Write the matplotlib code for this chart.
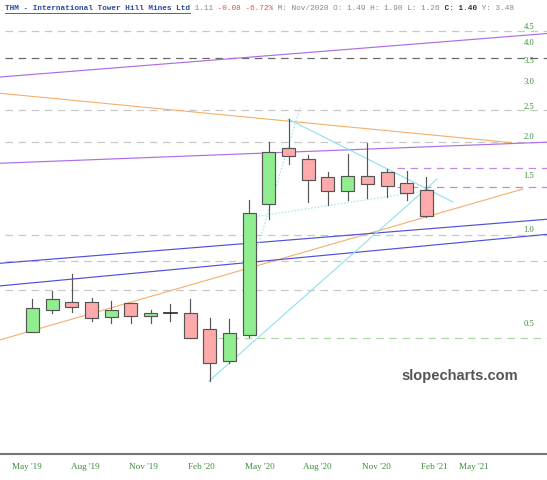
import numpy as np
import matplotlib
matplotlib.use('Agg')
import matplotlib.pyplot as plt
from matplotlib.patches import Rectangle

# ---- monthly candles (THM)
opens = [0.469, 0.549, 0.583, 0.585, 0.524, 0.578, 0.528, 0.539, 0.537, 0.477, 0.377,
         0.457, 1.204, 1.832, 1.681, 1.471, 1.332, 1.49, 1.533, 1.407, 1.339]
highs = [0.596, 0.635, 0.719, 0.603, 0.590, 0.580, 0.550, 0.575, 0.596, 0.520, 0.515,
         1.243, 1.906, 2.266, 1.735, 1.527, 1.744, 1.90, 1.561, 1.545, 1.47]
lows = [0.467, 0.537, 0.543, 0.509, 0.499, 0.499, 0.499, 0.507, 0.446, 0.325, 0.371,
        0.450, 1.080, 1.62, 1.222, 1.198, 1.243, 1.26, 1.268, 1.243, 1.10]
closes = [0.557, 0.596, 0.563, 0.517, 0.549, 0.528, 0.537, 0.539, 0.448, 0.373, 0.463,
          1.127, 1.778, 1.722, 1.442, 1.329, 1.489, 1.40, 1.382, 1.312, 1.107]

# ---- x tick labels (in candle index units)
dateTicks = [-0.26, 2.66, 5.63, 8.57, 11.55, 14.47, 17.44, 20.41, 22.41]
dateLabels = ["May '19", "Aug '19", "Nov '19", "Feb '20", "May '20",
              "Aug '20", "Nov '20", "Feb '21", "May '21"]
priceTicks = [0.5, 1.0, 1.5, 2.0, 2.5, 3.0, 3.5, 4.0, 4.5]

# ---- horizontal levels
grayLevels = [4.36, 2.42, 1.915, 0.959, 0.793, 0.638]
darkLevel = 3.55
greenLevel = 0.448
purpleLevels = [1.58, 1.372]

# ---- trend lines: (x0, p0, x1, p1)
orangeLines = [(-1.645, 2.741, 24.33, 1.901), (-1.645, 0.441, 24.9, 1.349)]
purpleLines = [(-1.645, 3.092, 26.12, 4.268), (-1.645, 1.632, 26.12, 1.908)]
blueLines = [(-1.645, 0.778, 26.12, 1.078), (-1.645, 0.658, 26.12, 0.964)]
cyanLines = [(8.96, 0.325, 20.54, 1.452), (12.97, 2.266, 21.35, 1.225)]
cyanDotted = [(11.30, 1.099, 19.67, 1.322), (11.2, 0.785, 13.58, 2.458)]


def main():
    fig = plt.figure(figsize=(5.47, 4.8), dpi=100)
    ax = fig.add_axes([0, 26/480, 1, 434/480])
    ax.set_yscale('log')
    ax.set_xlim(-1.645, 26.12)
    ax.set_ylim(0.1894, 4.717)

    #
    # ---- levels
    dash = (0, (6, 4.5))
    for lv in grayLevels:
        ax.axhline(lv, color='#c8c8c8', lw=0.9, ls=dash, xmin=0.01, zorder=1)
    ax.axhline(darkLevel, color='#6a6a6a', lw=0.9, ls=dash, xmin=0.01, zorder=1)
    ax.axhline(greenLevel, color='#a8dca0', lw=0.9, ls=dash, xmin=0.375, zorder=1)
    for lv in purpleLevels:
        ax.axhline(lv, color='#c488e0', lw=0.9, ls=dash, xmin=0.725, zorder=1)

    #
    # ---- trend lines
    for x0, p0, x1, p1 in orangeLines:
        ax.plot([x0, x1], [p0, p1], color='#f6ae6a', lw=0.8, zorder=2)
    for x0, p0, x1, p1 in purpleLines:
        ax.plot([x0, x1], [p0, p1], color='#ad6ee2', lw=0.85, zorder=2)
    for x0, p0, x1, p1 in blueLines:
        ax.plot([x0, x1], [p0, p1], color='#5050d8', lw=0.85, zorder=2)
    for x0, p0, x1, p1 in cyanLines:
        ax.plot([x0, x1], [p0, p1], color='#8ee2ec', lw=0.8, zorder=2)
    for x0, p0, x1, p1 in cyanDotted:
        ax.plot([x0, x1], [p0, p1], color='#a2e6ee', lw=0.8, ls=(0, (1.5, 1.5)), zorder=2)

    #
    # ---- candles
    w = 0.66
    for i, (o, h, l, c) in enumerate(zip(opens, highs, lows, closes)):
        ax.plot([i, i], [l, h], color='#555555', lw=0.85, zorder=3)
        if abs(c - o) < 1e-9:
            ax.plot([i - w/2, i + w/2], [o, o], color='#222222', lw=1.2, zorder=4)
            continue
        fc = '#90ee90' if c > o else '#ffaaaa'
        ax.add_patch(Rectangle((i - w/2, min(o, c)), w, abs(c - o), facecolor=fc,
                               edgecolor='#555555', lw=0.85, zorder=4))

    #
    # ---- axes style
    for s in ['top', 'left', 'right']:
        ax.spines[s].set_visible(False)
    ax.spines['bottom'].set_color('#777777')
    ax.spines['bottom'].set_linewidth(1.5)
    ax.set_xticks(dateTicks)
    ax.set_xticklabels(dateLabels, family='Liberation Serif', fontsize=6.6, color='#3c8c3c')
    ax.tick_params(axis='x', length=0, pad=6.5)
    ax.yaxis.tick_right()
    ax.set_yticks(priceTicks)
    ax.set_yticklabels([f'{v:.1f}' for v in priceTicks], family='Liberation Serif',
                       fontsize=6.2, color='#3c8c3c')
    ax.yaxis.set_minor_locator(matplotlib.ticker.NullLocator())
    ax.tick_params(axis='y', which='both', length=0, pad=-17)

    #
    # ---- header (monospace, colored segments)
    segs = [
        ('THM - International Tower Hill Mines Ltd', '#2a4aa0', 'bold'),
        (' 1.11', '#888888', 'normal'),
        (' -0.08 -6.72%', '#e05050', 'normal'),
        (' M: Nov/2020 O: 1.49 H: 1.90 L: 1.26', '#888888', 'normal'),
        (' C: 1.40', '#333333', 'bold'),
        (' Y: 3.48', '#888888', 'normal'),
    ]
    fs = 5.55
    cw = 0.6 * fs * 100 / 72
    x0 = 5
    n = 0
    for txt, col, wt in segs:
        fig.text((x0 + n * cw) / 547, 1 - 8/480, txt, family='Liberation Mono',
                 fontsize=fs, color=col, weight=wt, va='center', ha='left')
        n += len(txt)
    ulen = len(segs[0][0]) * cw
    fig.add_artist(plt.Line2D([x0/547, (x0 + ulen)/547], [1 - 12.5/480]*2,
                              color='#2a4aa0', lw=0.6))

    #
    # ---- watermark
    fig.text(460/547, 1 - 376/480, 'slopecharts.com', family='Liberation Sans',
             fontsize=10.5, weight='bold', color='#555555', ha='center', va='center')

    fig.savefig('out.png', dpi=100)


if __name__ == '__main__':
    main()
